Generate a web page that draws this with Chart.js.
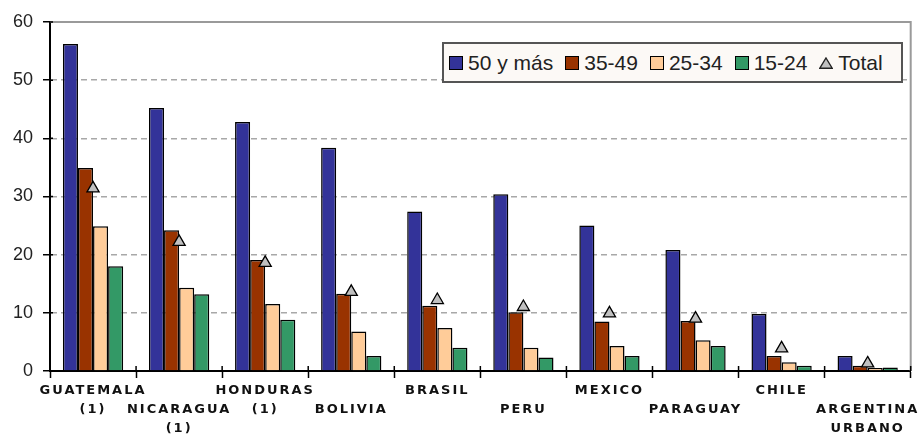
<!DOCTYPE html>
<html>
<head>
<meta charset="utf-8">
<script src="https://cdn.jsdelivr.net/npm/chart.js@4.4.1/dist/chart.umd.min.js"></script>
<style>
  html, body { margin: 0; padding: 0; background: #fff; }
  #wrap { position: relative; width: 919px; height: 436px; }
  #legend {
    position: absolute; left: 442px; top: 42px; width: 461px; height: 41px;
    box-sizing: border-box; border: 2px solid #555; background: #fcf9f6;
    display: flex; align-items: center; padding-left: 5px;
    font: 21px 'Liberation Sans', Arial, sans-serif; color: #222; white-space: nowrap;
  }
  #legend .item { display: flex; align-items: center; margin-right: 12px; }
  #legend .box { width: 14px; height: 14px; box-sizing: border-box; border: 1.5px solid #000; margin-right: 5px; }
  #legend svg { margin-right: 5px; }
</style>
</head>
<body>
<div id="wrap">
  <canvas id="chart" width="919" height="436"></canvas>
  <div id="legend"></div>
</div>
<script>
const categories = [
  ['GUATEMALA', '(1)'], ['', 'NICARAGUA', '(1)'], ['HONDURAS', '(1)'], ['', 'BOLIVIA'],
  ['BRASIL'], ['', 'PERU'], ['MEXICO'], ['', 'PARAGUAY'], ['CHILE'], ['', 'ARGENTINA', 'URBANO'],
];
const age50plus = [56.2, 45.2, 42.8, 38.4, 27.4, 30.4, 25.0, 20.8, 9.8, 2.6];
const age35to49 = [34.9, 24.2, 19.1, 13.3, 11.2, 10.1, 8.5, 8.6, 2.6, 0.9];
const age25to34 = [24.9, 14.3, 11.5, 6.8, 7.4, 4.0, 4.3, 5.3, 1.5, 0.5];
const age15to24 = [18.0, 13.2, 8.8, 2.6, 4.0, 2.3, 2.6, 4.3, 0.9, 0.6];
const total = [31.4, 22.2, 18.6, 13.6, 12.2, 11.0, 9.9, 9.0, 3.9, 1.3];

const bar = (label, data, color) => ({
  label, data, backgroundColor: color, borderColor: '#000', borderWidth: 1.5,
});

// рамка области построения + внутренние засечки
const plotFrame = {
  id: 'plotFrame',
  beforeDatasetsDraw(chart) {
    const { ctx, chartArea: { left, top, right, bottom }, scales: { x, y } } = chart;
    ctx.save();
    ctx.strokeStyle = '#9a9a9a';
    ctx.lineWidth = 2;
    ctx.beginPath();
    ctx.moveTo(left, top);
    ctx.lineTo(right, top);
    ctx.lineTo(right, bottom);
    ctx.stroke();
    ctx.strokeStyle = '#000';
    ctx.lineWidth = 1.5;
    ctx.beginPath();
    y.ticks.forEach((t) => {
      const py = y.getPixelForValue(t.value);
      ctx.moveTo(left, py);
      ctx.lineTo(left + 3, py);
    });
    const n = x.ticks.length;
    for (let i = 0; i <= n; i++) {
      const px = x.left + (i * x.width) / n;
      ctx.moveTo(px, bottom);
      ctx.lineTo(px, bottom - 5);
    }
    ctx.stroke();
    ctx.restore();
  },
};

// разрядка букв в подписях оси X
const spacedLabels = {
  id: 'spacedLabels',
  beforeDraw(chart) {
    const xs = chart.scales.x;
    if (xs.spaced) return;
    const orig = xs.drawLabels;
    xs.drawLabels = function drawSpaced(area) {
      this.ctx.save();
      this.ctx.letterSpacing = '2px';
      orig.call(this, area);
      this.ctx.restore();
    };
    xs.spaced = true;
  },
};

const htmlLegend = {
  id: 'htmlLegend',
  afterUpdate(chart) {
    const box = document.getElementById('legend');
    box.innerHTML = '';
    chart.data.datasets.forEach((ds) => {
      const item = document.createElement('span');
      item.className = 'item';
      if (ds.type === 'line') {
        item.innerHTML = '<svg width="14" height="12"><polygon points="7,1 13.2,11.2 0.8,11.2" fill="#c0c0c0" stroke="#222" stroke-width="1.4"/></svg>';
      } else {
        const sw = document.createElement('span');
        sw.className = 'box';
        sw.style.background = ds.backgroundColor;
        item.appendChild(sw);
      }
      item.appendChild(document.createTextNode(ds.label));
      box.appendChild(item);
    });
  },
};

const chart = new Chart(document.getElementById('chart'), {
  type: 'bar',
  data: {
    labels: categories,
    datasets: [
      bar('50 y más', age50plus, '#333399'),
      bar('35-49', age35to49, '#993300'),
      bar('25-34', age25to34, '#ffcc99'),
      bar('15-24', age15to24, '#339966'),
      {
        type: 'line',
        label: 'Total',
        data: total,
        showLine: false,
        order: -1,
        pointStyle: 'triangle',
        pointRadius: 7,
        pointBackgroundColor: '#c0c0c0',
        pointBorderColor: '#000',
        pointBorderWidth: 1.3,
      },
    ],
  },
  options: {
    responsive: false,
    animation: false,
    layout: { padding: { top: 22, right: 6, left: 0, bottom: 0 } },
    datasets: { bar: { categoryPercentage: 0.7, barPercentage: 1 } },
    plugins: { legend: { display: false }, tooltip: { enabled: false } },
    scales: {
      x: {
        afterFit(scale) {
          scale.height = 65;
          scale.paddingLeft = 0;
          scale.paddingRight = 0;
        },
        grid: {
          offset: true, drawOnChartArea: false, tickLength: 7, tickColor: '#000', tickWidth: 1.5,
        },
        border: { color: '#000', width: 2 },
        ticks: {
          autoSkip: false,
          maxRotation: 0,
          padding: 3,
          color: '#111',
          font: { family: "'DejaVu Sans', sans-serif", size: 13, weight: 'bold', lineHeight: '19px' },
        },
      },
      y: {
        min: 0,
        max: 60,
        afterFit(scale) {
          scale.width = 50;
        },
        grid: {
          color: '#a8a8a8', lineWidth: 1.5, tickLength: 7, tickColor: '#000', tickWidth: 1.5,
        },
        border: { color: '#000', width: 2, dash: [6, 4] },
        ticks: {
          stepSize: 10,
          padding: 10,
          color: '#222',
          font: { family: "'Liberation Sans', Arial, sans-serif", size: 18 },
        },
      },
    },
  },
  plugins: [plotFrame, spacedLabels, htmlLegend],
});
</script>
</body>
</html>
